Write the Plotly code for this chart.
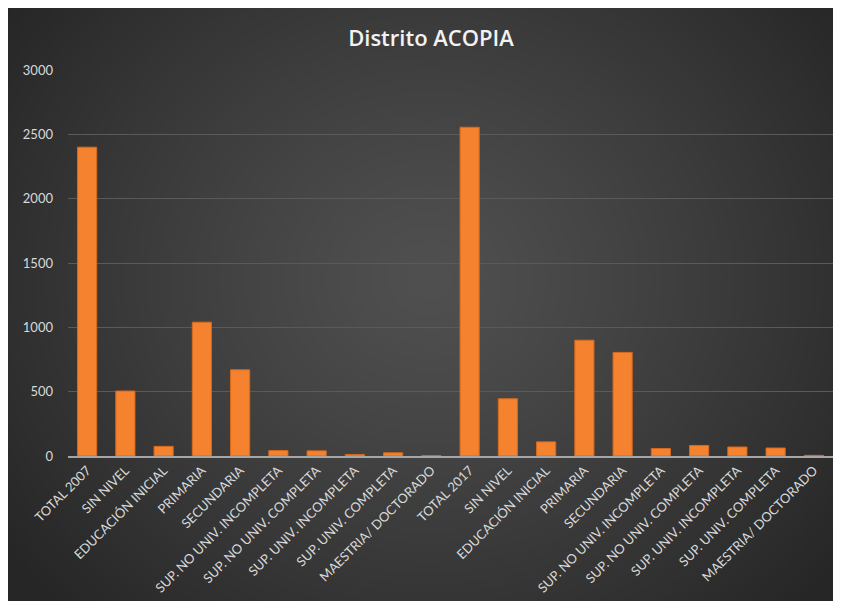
import base64, struct, zlib
import numpy as np
import plotly.graph_objects as go

categories = [
    "TOTAL 2007", "SIN NIVEL", "EDUCACIÓN INICIAL", "PRIMARIA", "SECUNDARIA",
    "SUP. NO UNIV. INCOMPLETA", "SUP. NO UNIV. COMPLETA", "SUP. UNIV. INCOMPLETA",
    "SUP. UNIV. COMPLETA", "MAESTRIA/ DOCTORADO",
    "TOTAL 2017", "SIN NIVEL", "EDUCACIÓN INICIAL", "PRIMARIA", "SECUNDARIA",
    "SUP. NO UNIV. INCOMPLETA", "SUP. NO UNIV. COMPLETA", "SUP. UNIV. INCOMPLETA",
    "SUP. UNIV. COMPLETA", "MAESTRIA/ DOCTORADO",
]
values = [2400, 505, 75, 1040, 670, 42, 40, 12, 25, 2,
          2555, 445, 110, 900, 805, 58, 82, 70, 62, 5]
y_ticks = [0, 500, 1000, 1500, 2000, 2500, 3000]

W, H = 841, 601
OFF = 8  # page offset of the figure (body margin)

# radial gradient background as PNG
def make_png(w, h):
    yy, xx = np.mgrid[0:h, 0:w].astype(float)
    cx, cy = w * 0.5, h * 0.45
    d = np.sqrt(((xx - cx) / (w * 0.62)) ** 2 + ((yy - cy) / (h * 0.78)) ** 2)
    d = np.clip(d, 0, 1)
    v = 80 - 42 * d ** 1.2
    img = np.clip(v, 0, 255).astype(np.uint8)
    rgb = np.stack([img, img, img], axis=-1)
    raw = b"".join(b"\x00" + rgb[r].tobytes() for r in range(h))
    def chunk(t, data):
        c = struct.pack(">I", len(data)) + t + data
        return c + struct.pack(">I", zlib.crc32(t + data) & 0xffffffff)
    png = b"\x89PNG\r\n\x1a\n" + chunk(b"IHDR", struct.pack(">IIBBBBB", w, h, 8, 2, 0, 0, 0))
    png += chunk(b"IDAT", zlib.compress(raw, 9)) + chunk(b"IEND", b"")
    return "data:image/png;base64," + base64.b64encode(png).decode()

bg = make_png(W, H)

x_idx = list(range(len(categories)))

fig = go.Figure(go.Bar(
    x=x_idx, y=values,
    marker=dict(color="#F4822F", line=dict(color="#D8691C", width=1)),
    width=0.5,
))

def px(x):
    return (x - OFF) / W

def py(y):
    return 1 - (y - OFF) / H

fig.update_layout(
    width=W, height=H,
    margin=dict(l=0, r=0, t=0, b=0, autoexpand=False),
    paper_bgcolor="#2A2A2A",
    plot_bgcolor="rgba(0,0,0,0)",
    showlegend=False,
    images=[dict(source=bg, xref="paper", yref="paper",
                 x=0, y=1, sizex=1, sizey=1,
                 sizing="stretch", xanchor="left", yanchor="top", layer="below")],
    title=dict(text="Distrito ACOPIA", x=px(431), xanchor="center",
               y=py(38), yanchor="middle", automargin=False,
               font=dict(family="Open Sans", size=22, color="#F2F2F2", weight=600)),
    xaxis=dict(
        domain=[px(68), px(833)],
        range=[-0.5, len(categories) - 0.5],
        tickmode="array", tickvals=x_idx, ticktext=categories,
        tickangle=-45, showgrid=False, ticks="",
        showline=True, linecolor="#A6A6A6", linewidth=1.5,
        tickfont=dict(family="Lato", size=13, color="#D9D9D9"),
        anchor="y", automargin=False,
    ),
    yaxis=dict(
        domain=[py(456), py(70)],
        range=[0, 3000], tickmode="array", tickvals=y_ticks,
        showgrid=True, gridcolor="#5A5A5A", gridwidth=1,
        zeroline=False, showline=False, ticks="",
        ticklabelstandoff=14, automargin=False,
        tickfont=dict(family="Lato", size=13, color="#D9D9D9"),
    ),
    bargap=0.5,
)

fig.write_html("out.html")
